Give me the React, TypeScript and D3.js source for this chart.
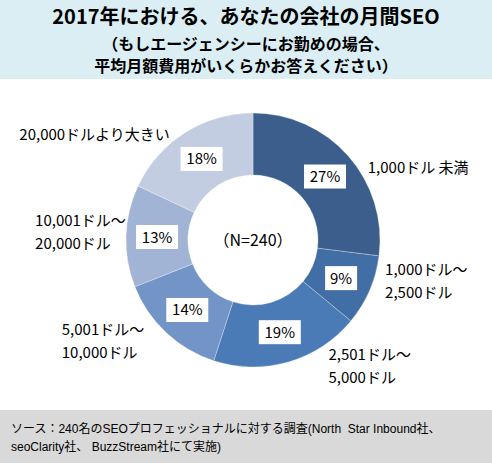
import { useEffect, useRef } from "react"
import * as d3 from "d3"

// slice data, clockwise from 12 o'clock
const categories = [
  ["1,000ドル 未満"],
  ["1,000ドル～", "2,500ドル"],
  ["2,501ドル～", "5,000ドル"],
  ["5,001ドル～", "10,000ドル"],
  ["10,001ドル～", "20,000ドル"],
  ["20,000ドルより大きい"],
]
const shares = [27, 9, 19, 14, 13, 18]
const sliceColors = ["#3b5e8c", "#416ea5", "#4a7bb7", "#7394c6", "#a2b4d6", "#c3cde2"]

const titleLines = [
  "2017年における、あなたの会社の月間SEO",
  "（もしエージェンシーにお勤めの場合、",
  "平均月額費用がいくらかお答えください）",
]
const sourceLines = [
  "ソース：240名のSEOプロフェッショナルに対する調査(North  Star Inbound社、",
  "seoClarity社、 BuzzStream社にて実施)",
]
const centerLabel = "（N=240）"

// hand-placed category labels: nudges from the arc anchor
const labelNudge: [number, number][] = [
  [6, 23],
  [-1, -17],
  [35, -13],
  [-92, -5],
  [-73, -3],
  [-156, 17],
]

export default function App() {
  const svgRef = useRef<SVGSVGElement>(null)

  useEffect(() => {
    if (!svgRef.current) return
    const svg = d3.select(svgRef.current)
    svg.selectAll("*").remove()

    const width = 492
    const height = 463
    const jp = "'Noto Sans CJK JP', 'Noto Sans', sans-serif"

    svg.append("rect").attr("width", width).attr("height", height).attr("fill", "#ffffff")

    // title band
    svg.append("rect").attr("width", width).attr("height", 79).attr("fill", "#dbeef4")
    const titleY = [24, 50, 72]
    const titleSize = [20, 16, 16]
    titleLines.forEach((t, i) => {
      svg
        .append("text")
        .attr("x", width / 2)
        .attr("y", titleY[i])
        .attr("text-anchor", "middle")
        .attr("font-family", jp)
        .attr("font-weight", "bold")
        .attr("font-size", titleSize[i])
        .attr("fill", "#000")
        .text(t)
    })

    // donut
    const cx = 253
    const cy = 240
    const outerR = 127
    const innerR = 65
    const pie = d3.pie<number>().sort(null).value((d) => d)
    const arcs = pie(shares)
    const arc = d3.arc<d3.PieArcDatum<number>>().innerRadius(innerR).outerRadius(outerR)
    const labelArc = d3.arc<d3.PieArcDatum<number>>().innerRadius(145).outerRadius(145)

    const g = svg.append("g").attr("transform", `translate(${cx},${cy})`)

    g.selectAll("path")
      .data(arcs)
      .join("path")
      .attr("d", arc)
      .attr("fill", (_, i) => sliceColors[i])
      .attr("stroke", "rgba(255,255,255,0.35)")
      .attr("stroke-width", 0.8)

    // percent boxes
    arcs.forEach((a, i) => {
      const [x, y] = arc.centroid(a)
      const label = `${shares[i]}%`
      const w = label.length > 2 ? 42 : 32
      g.append("rect")
        .attr("x", x - w / 2)
        .attr("y", y - 12)
        .attr("width", w)
        .attr("height", 24)
        .attr("fill", "#ffffff")
      g.append("text")
        .attr("x", x)
        .attr("y", y + 5.5)
        .attr("text-anchor", "middle")
        .attr("font-family", jp)
        .attr("font-size", 15)
        .attr("fill", "#000")
        .text(label)
    })

    g.append("text")
      .attr("x", 0)
      .attr("y", 6)
      .attr("text-anchor", "middle")
      .attr("font-family", jp)
      .attr("font-size", 16)
      .attr("fill", "#000")
      .text(centerLabel)

    // category labels
    arcs.forEach((a, i) => {
      const [ax, ay] = labelArc.centroid(a)
      const lines = categories[i]
      const x = ax + labelNudge[i][0]
      const y0 = ay + labelNudge[i][1] - ((lines.length - 1) * 23) / 2
      const t = g
        .append("text")
        .attr("font-family", jp)
        .attr("font-size", 15)
        .attr("fill", "#000")
      lines.forEach((line, j) => {
        t.append("tspan")
          .attr("x", x)
          .attr("y", y0 + j * 23 + 5.5)
          .text(line)
      })
    })

    // source band
    svg.append("rect").attr("y", 410).attr("width", width).attr("height", 53).attr("fill", "#d9d9d9")
    sourceLines.forEach((t, i) => {
      svg
        .append("text")
        .attr("x", 11)
        .attr("y", 433 + i * 18)
        .attr("font-family", "'Liberation Sans', Arial, 'Noto Sans CJK JP', sans-serif")
        .attr("font-size", 12)
        .attr("fill", "#000")
        .style("white-space", "pre")
        .text(t)
    })
  }, [])

  return (
    <svg
      ref={svgRef}
      width={492}
      height={463}
      style={{ position: "fixed", left: 0, top: 0, display: "block" }}
    />
  )
}
